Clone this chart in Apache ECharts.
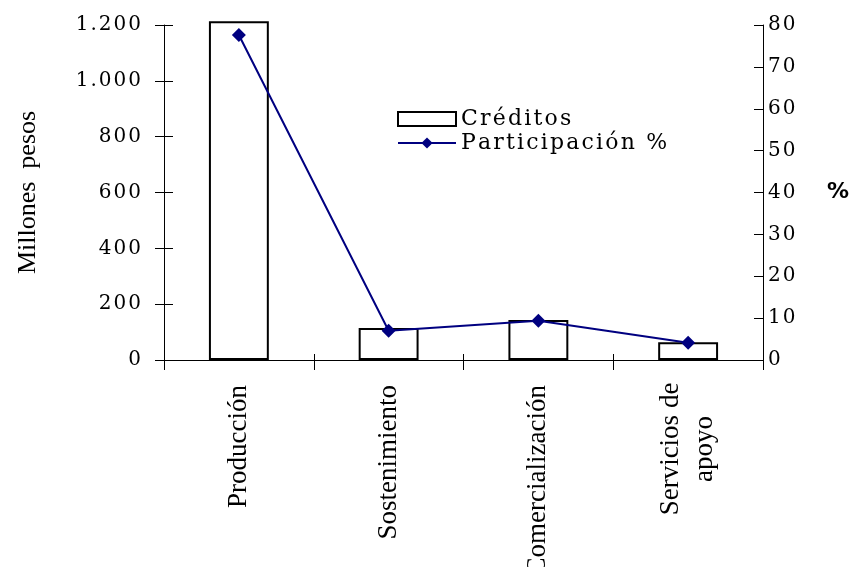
<!DOCTYPE html>
<html><head><meta charset="utf-8">
<script src="https://cdn.jsdelivr.net/npm/echarts@6/dist/echarts.min.js"></script>
<style>html,body{margin:0;padding:0;background:#fff;overflow:hidden}#c{width:856px;height:567px}</style>
</head><body><div id="c"></div>
<script>
const categories = ['Producción', 'Sostenimiento', 'Comercialización', 'Servicios de\napoyo'];
const creditos = [1213, 115, 143, 64];
const participacion = [77.6, 7.0, 9.4, 4.1];
const leftTicks = { min: 0, max: 1200, interval: 200 };
const rightTicks = { min: 0, max: 80, interval: 10 };

const serifNum = 'DejaVu Serif';
const serifTxt = 'Liberation Serif';
const HS = '\u200A';
const spaced = s => String(s).split('').join(HS);
const fmtThousands = v => spaced(String(v).replace(/\B(?=(\d{3})+(?!\d))/g, '.'));

// multi-line category labels: lines centred on each other, block still hanging from the axis
const categoryData = categories.map(c => c.indexOf('\n') >= 0
  ? { value: c, textStyle: { align: 'center', padding: [0, 128, 0, 0] } }
  : c);

const chart = echarts.init(document.getElementById('c'), null, { renderer: 'canvas' });
const axisLine = { show: true, lineStyle: { color: '#000', width: 1 } };
chart.setOption({
  animation: false,
  backgroundColor: '#fff',
  grid: { left: 164, right: 93, top: 25, bottom: 207, containLabel: false, outerBoundsMode: 'none' },
  legend: {
    orient: 'vertical', left: 392, top: 103, itemWidth: 58, itemHeight: 14, itemGap: 2,
    formatter: name => spaced(name),
    textStyle: { fontFamily: serifNum, fontSize: 22, color: '#000' },
    data: [{ name: 'Créditos', icon: 'rect' }, { name: 'Participación %' }]
  },
  xAxis: [{
    type: 'category', data: categoryData, boundaryGap: true,
    axisLine: axisLine,
    axisTick: { show: true, inside: false, length: 10, lineStyle: { color: '#000' } },
    axisLabel: { rotate: 90, margin: 25, fontFamily: serifTxt, fontSize: 27, color: '#000', lineHeight: 34, align: 'right' }
  }, {
    type: 'category', data: categories, position: 'bottom', boundaryGap: true,
    axisLine: { show: false },
    axisTick: { show: true, inside: true, length: 6, lineStyle: { color: '#000' } },
    axisLabel: { show: false }
  }],
  yAxis: [{
    type: 'value', position: 'left', min: leftTicks.min, max: leftTicks.max, interval: leftTicks.interval,
    name: 'Millones  pesos', nameLocation: 'middle', nameGap: 123, nameRotate: 90,
    nameTextStyle: { fontFamily: serifTxt, fontSize: 26, color: '#000' },
    axisLine: axisLine, splitLine: { show: false },
    axisTick: { show: true, length: 9, lineStyle: { color: '#000' } },
    axisLabel: { formatter: fmtThousands, margin: 23, fontFamily: serifNum, fontSize: 20, color: '#000' }
  }, {
    type: 'value', position: 'right', min: rightTicks.min, max: rightTicks.max, interval: rightTicks.interval,
    name: '%', nameLocation: 'middle', nameGap: 64, nameRotate: 0,
    nameTextStyle: { fontFamily: 'DejaVu Sans', fontWeight: 'bold', fontSize: 22, color: '#000' },
    axisLine: axisLine, splitLine: { show: false },
    axisTick: { show: true, inside: true, length: 9, lineStyle: { color: '#000' } },
    axisLabel: { formatter: v => spaced(v), margin: 5, fontFamily: serifNum, fontSize: 20, color: '#000' }
  }, {
    type: 'value', position: 'left', min: leftTicks.min, max: leftTicks.max, interval: leftTicks.interval,
    axisLine: { show: false }, splitLine: { show: false },
    axisTick: { show: true, inside: true, length: 9, lineStyle: { color: '#000' } },
    axisLabel: { show: false }
  }],
  series: [{
    name: 'Créditos', type: 'bar', data: creditos, yAxisIndex: 0, barWidth: '40%', clip: false,
    itemStyle: { color: '#fff', borderColor: '#000', borderWidth: 2 }
  }, {
    name: 'Participación %', type: 'line', data: participacion, yAxisIndex: 1,
    symbol: 'diamond', symbolSize: 14, showSymbol: true,
    lineStyle: { color: '#000080', width: 2 },
    itemStyle: { color: '#000080' }
  }]
});
</script></body></html>
